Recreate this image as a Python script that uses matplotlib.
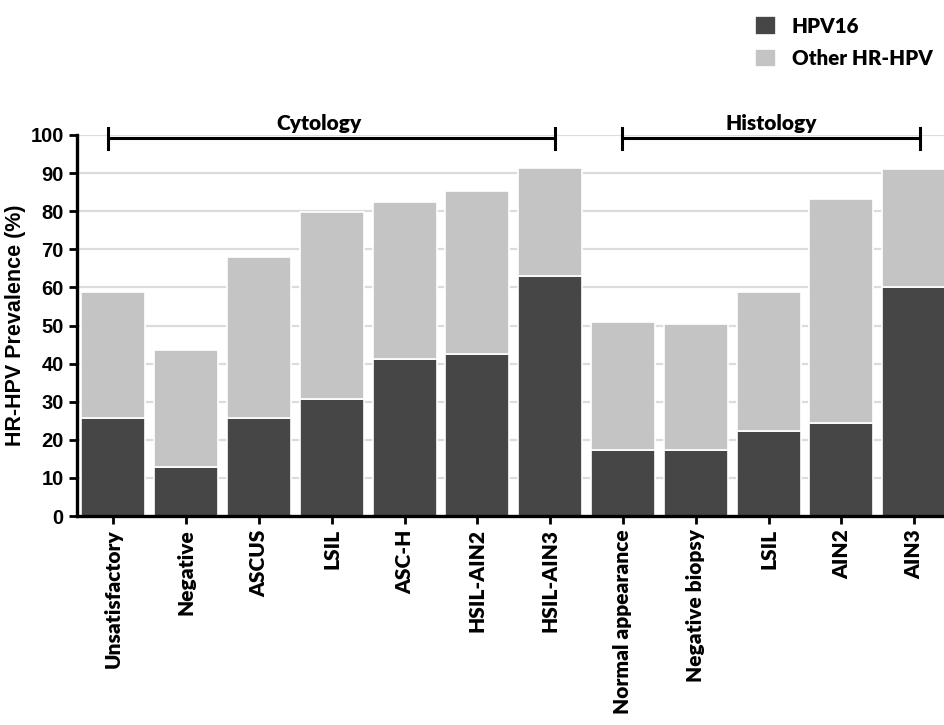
import matplotlib.pyplot as plt
import numpy as np

categories = ['Unsatisfactory', 'Negative', 'ASCUS', 'LSIL', 'ASC-H', 'HSIL-AIN2',
              'HSIL-AIN3', 'Normal appearance', 'Negative biopsy', 'LSIL', 'AIN2', 'AIN3']
# total HR-HPV prevalence and the HPV16 share of it (%)
hpv16 = [25.8, 12.8, 25.6, 30.8, 41.2, 42.6, 62.9, 17.2, 17.4, 22.4, 24.3, 60.0]
total_hr = [58.8, 43.6, 67.9, 79.7, 82.4, 85.3, 91.4, 50.9, 50.4, 58.9, 83.3, 91.1]
other_hr = [t - h for t, h in zip(total_hr, hpv16)]

dark = '#464646'
light = '#c4c4c4'
calibri_like = 'Lato'
arial_like = 'Liberation Sans'

fig = plt.figure(figsize=(9.44, 7.25), dpi=100)
ax = fig.add_axes([77 / 944, 1 - 516 / 725, 1 - 77 / 944, (516 - 135) / 725])

x = np.arange(len(categories))
ax.bar(x, hpv16, width=0.88, color=dark, edgecolor='white', linewidth=1.2,
       zorder=3, label='HPV16')
ax.bar(x, other_hr, bottom=hpv16, width=0.88, color=light, edgecolor='white',
       linewidth=1.2, zorder=3, label='Other HR-HPV')

ax.set_xlim(-0.5, 11.41)
ax.set_ylim(0, 100)
ax.set_yticks(range(0, 101, 10))
for g in range(10, 101, 10):
    ax.axhline(g, color='#dcdcdc', lw=1.6, zorder=1)

for side in ['top', 'right']:
    ax.spines[side].set_visible(False)
for side in ['left', 'bottom']:
    ax.spines[side].set_linewidth(2.4)
    ax.spines[side].set_zorder(5)
ax.tick_params(axis='both', width=2, length=6, direction='out')

ax.set_xticks(x)
ax.set_xticklabels(categories, rotation=90, fontsize=15, fontweight='heavy',
                   family=calibri_like)
for lbl in ax.get_yticklabels():
    lbl.set_fontsize(14.5)
    lbl.set_fontweight('bold')
    lbl.set_family(arial_like)
ax.set_ylabel('HR-HPV Prevalence (%)', fontsize=15.5, fontweight='bold',
              family=arial_like, labelpad=3)

# group brackets above the bars
def bracket(x0, x1, name, shift=0.0):
    y = 99.3
    ax.plot([x0, x1], [y, y], color='black', lw=2.2, clip_on=False, zorder=4)
    for xx in (x0, x1):
        ax.plot([xx, xx], [y - 2.9, y + 2.6], color='black', lw=2.2, clip_on=False, zorder=4)
    ax.text((x0 + x1) / 2 + shift, y + 1.2, name, ha='center', va='bottom', fontsize=15,
            fontweight='heavy', family=calibri_like)

bracket(-0.07, 6.07, 'Cytology', shift=-0.18)
bracket(6.99, 11.08, 'Histology')

leg = fig.legend(loc='upper left', bbox_to_anchor=(736 / 944, 1 + 2 / 725), frameon=False,
                 prop={'family': calibri_like, 'weight': 'heavy', 'size': 14.8},
                 handlelength=1.05, handleheight=1.0, handletextpad=0.75, labelspacing=0.65)

fig.savefig('out.png', dpi=100)
